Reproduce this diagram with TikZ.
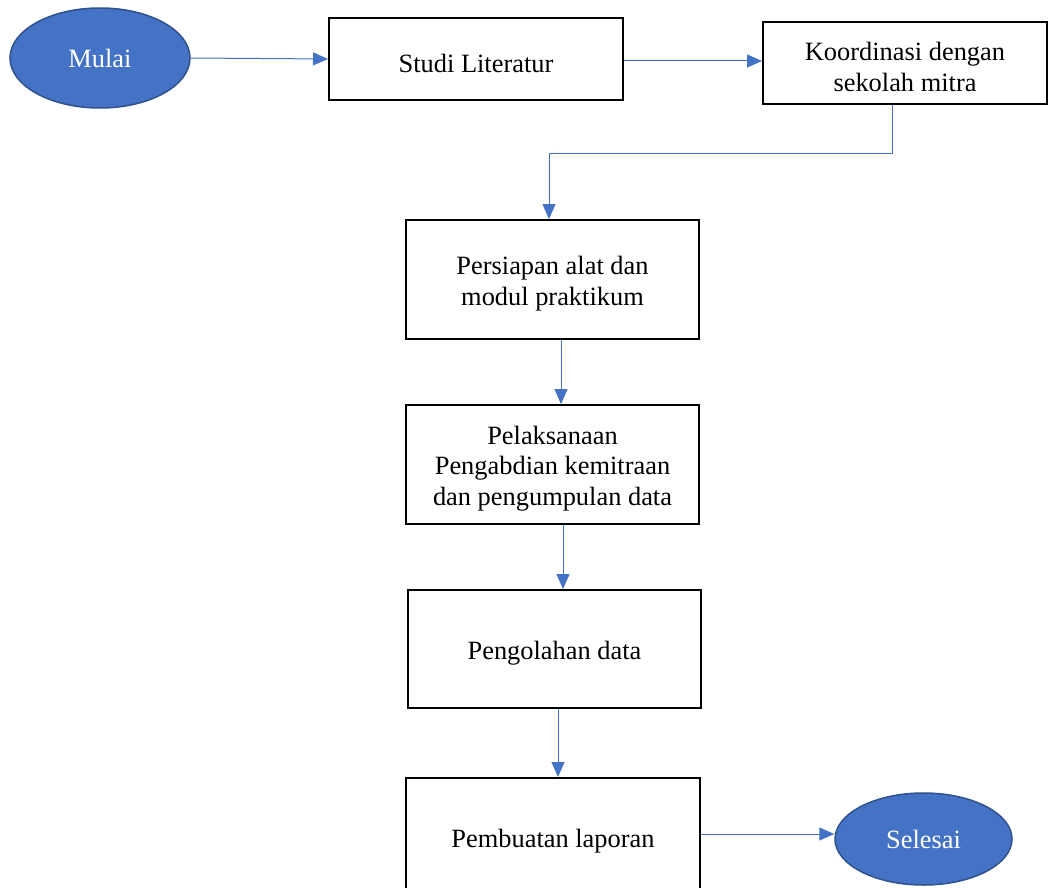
\documentclass[tikz,border=0pt]{standalone}
\usepackage{fontspec}
\setmainfont{Liberation Serif}
\usetikzlibrary{shapes.geometric,arrows.meta}
\definecolor{fillblue}{HTML}{4472C4}
\definecolor{edgeblue}{HTML}{2F528F}
\tikzset{
  stepbox/.style={draw=black,line width=2pt,rectangle,inner sep=0pt},
  steptext/.style={label={[align=center,inner sep=0pt,yshift=-4pt,font=\fontsize{26.4}{30.6}\selectfont]center:{#1}}},
  terminal/.style={ellipse,draw=edgeblue,line width=1.5pt,fill=fillblue,text=white,inner sep=0pt,font=\fontsize{26.4}{30.4}\selectfont},
  flow/.style={draw=fillblue,line width=1pt,-{Triangle[length=15pt,width=13pt]}},
  flowline/.style={draw=fillblue,line width=1pt}
}
\begin{document}
\begin{tikzpicture}[x=1pt,y=-1pt]
\useasboundingbox (0,0) rectangle (1049,888);
\node[terminal,minimum width=180pt,minimum height=100pt] (mulai) at (100,58) {\raisebox{-2pt}{Mulai}};
\node[stepbox,minimum width=294pt,minimum height=82pt,steptext={Studi Literatur}] (studi) at (476,59) {};
\node[stepbox,minimum width=284pt,minimum height=82pt,steptext={Koordinasi dengan\\sekolah mitra}] (koord) at (905,63) {};
\node[stepbox,minimum width=293pt,minimum height=119pt,steptext={Persiapan alat dan\\modul praktikum}] (pers) at (552.5,279.5) {};
\node[stepbox,minimum width=293pt,minimum height=119pt,steptext={Pelaksanaan\\Pengabdian kemitraan\\dan pengumpulan data}] (pel) at (552.5,464.5) {};
\node[stepbox,minimum width=293pt,minimum height=118pt,steptext={Pengolahan data}] (peng) at (554.5,649) {};
\node[stepbox,minimum width=294pt,minimum height=118pt,steptext={Pembuatan laporan}] (pemb) at (553,837) {};
\node[terminal,minimum width=177pt,minimum height=92pt] (sel) at (923.5,839) {Selesai};
\coordinate (bend) at (892,153);
\draw[flow] (mulai.east) -- (studi.west);
\draw[flow] (studi.east |- 0,61) -- (koord.west |- 0,61);
\draw[flowline] (koord.south -| bend) -- (bend) -- (549,153) coordinate (bend2);
\draw[flow] (bend2) -- (pers.north -| bend2);
\draw[flow] ([xshift=8.5pt]pers.south) -- ([xshift=8.5pt]pel.north);
\draw[flow] ([xshift=10.5pt]pel.south) -- ([xshift=8.5pt]peng.north);
\draw[flow] ([xshift=3.5pt]peng.south) -- ([xshift=5pt]pemb.north);
\draw[flow] (pemb.east |- 0,834) -- (sel.west |- 0,834);
\end{tikzpicture}
\end{document}
